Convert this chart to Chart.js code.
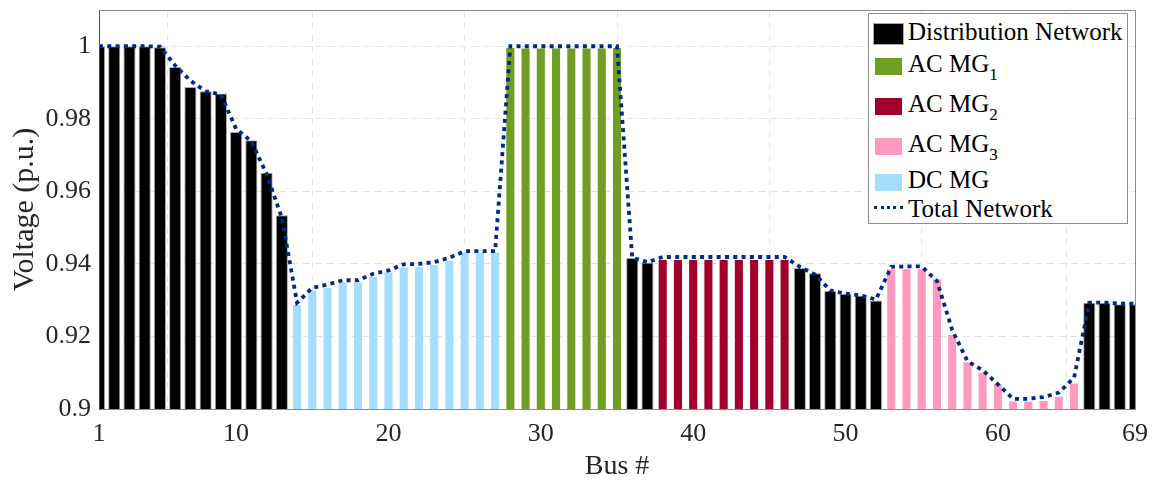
<!DOCTYPE html>
<html>
<head>
<meta charset="utf-8">
<script src="https://cdn.jsdelivr.net/npm/chart.js@4.4.1/dist/chart.umd.min.js"></script>
<style>
  body { margin: 0; background: #fff; }
  #wrap { position: relative; width: 1156px; height: 485px; }
  #legend {
    position: absolute; left: 868px; top: 13px; width: 258px; height: 209px;
    border: 1px solid #8c8c8c; background: #fff;
    font-family: "Liberation Serif", "Times New Roman", serif; color: #000;
  }
  #legend .row { position: absolute; left: 0; font-size: 25px; line-height: 25px; white-space: nowrap; }
  #legend .txt { position: absolute; left: 39px; top: 0; }
  #legend sub { font-size: 17px; vertical-align: -8px; line-height: 0; }
  #legend .sw { position: absolute; }
</style>
</head>
<body>
<div id="wrap">
  <canvas id="voltChart"></canvas>
  <div id="legend"></div>
</div>
<script>
// bus numbers and voltages (p.u.) per network part
const distBuses = [1, 2, 3, 4, 5, 6, 7, 8, 9, 10, 11, 12, 13, 36, 37, 47, 48, 49, 50, 51, 52, 66, 67, 68, 69];
const distV = [1.0, 1.0, 1.0, 1.0, 0.9997, 0.9943, 0.9888, 0.9876, 0.9870, 0.9764, 0.9741, 0.9651, 0.9534,
  0.9416, 0.9404, 0.9389, 0.9374, 0.9325, 0.9318, 0.9313, 0.9299, 0.9293, 0.9293, 0.9289, 0.9289];

const ac1Buses = [28, 29, 30, 31, 32, 33, 34, 35];
const ac1V = [0.9995, 0.9994, 0.9994, 0.9994, 0.9994, 0.9994, 0.9994, 0.9995];

const ac2Buses = [38, 39, 40, 41, 42, 43, 44, 45, 46];
const ac2V = [0.9411, 0.9411, 0.9411, 0.9411, 0.9411, 0.9411, 0.9411, 0.9411, 0.9411];

const ac3Buses = [53, 54, 55, 56, 57, 58, 59, 60, 61, 62, 63, 64, 65];
const ac3V = [0.9385, 0.9385, 0.9385, 0.9357, 0.9204, 0.9129, 0.9100, 0.9068, 0.9021, 0.9021, 0.9022, 0.9034, 0.9070];

const dcBuses = [14, 15, 16, 17, 18, 19, 20, 21, 22, 23, 24, 25, 26, 27];
const dcV = [0.9287, 0.9327, 0.9334, 0.9348, 0.9348, 0.9364, 0.9376, 0.9391, 0.9391, 0.9397, 0.9408, 0.9431, 0.9431, 0.9431];

// whole network, buses 1..69
const totalBuses = [1, 2, 3, 4, 5, 6, 7, 8, 9, 10, 11, 12, 13, 14, 15, 16, 17, 18, 19, 20, 21, 22, 23,
  24, 25, 26, 27, 28, 29, 30, 31, 32, 33, 34, 35, 36, 37, 38, 39, 40, 41, 42, 43, 44, 45, 46,
  47, 48, 49, 50, 51, 52, 53, 54, 55, 56, 57, 58, 59, 60, 61, 62, 63, 64, 65, 66, 67, 68, 69];
const totalV = [1.0, 1.0, 1.0, 1.0, 0.9999, 0.9947, 0.9905, 0.9876, 0.9867, 0.9772, 0.9738, 0.9648, 0.9527,
  0.9293, 0.9334, 0.9343, 0.9355, 0.9355, 0.9373, 0.9382, 0.9399, 0.9400, 0.9405, 0.9417, 0.9435, 0.9435, 0.9435,
  1.0, 1.0, 1.0, 1.0, 1.0, 1.0, 1.0, 1.0,
  0.9417, 0.9405,
  0.9419, 0.9419, 0.9419, 0.9419, 0.9419, 0.9419, 0.9419, 0.9419, 0.9419,
  0.9392, 0.9371, 0.9327, 0.9318, 0.9313, 0.9302,
  0.9392, 0.9393, 0.9393, 0.9353, 0.9218, 0.9132, 0.9107, 0.9068, 0.9028, 0.9028, 0.9033, 0.9045, 0.9086,
  0.9293, 0.9293, 0.9291, 0.9290];

const xTicks = [1, 10, 20, 30, 40, 50, 60, 69];
const yTicks = [0.9, 0.92, 0.94, 0.96, 0.98, 1];

const FONT = '"Liberation Serif", "Times New Roman", serif';

const pts = (xs, ys) => xs.map((x, i) => ({x: x, y: ys[i]}));

const barSet = (label, sub, xs, ys, color, pct, border) => ({
  type: 'bar',
  label: label,
  sub: sub,
  data: pts(xs, ys),
  backgroundColor: color,
  borderColor: border || color,
  borderWidth: border ? 1 : 0,
  grouped: false,
  barPercentage: pct,
  categoryPercentage: 1,
  order: 2
});

const datasets = [
  barSet('Distribution Network', '', distBuses, distV, '#000000', 0.8, '#a8a8a8'),
  barSet('AC MG', '1', ac1Buses, ac1V, '#6e9f22', 0.53),
  barSet('AC MG', '2', ac2Buses, ac2V, '#a0002b', 0.53),
  barSet('AC MG', '3', ac3Buses, ac3V, '#ff99c0', 0.53),
  barSet('DC MG', '', dcBuses, dcV, '#a3dffc', 0.53),
  {
    type: 'line',
    label: 'Total Network',
    sub: '',
    data: pts(totalBuses, totalV),
    borderColor: '#00298a',
    borderWidth: 3.8,
    borderDash: [4, 4.3],
    borderCapStyle: 'butt',
    pointRadius: 0,
    tension: 0,
    fill: false,
    order: 0
  }
];

// frame around the plot area
const frame = {
  id: 'frame',
  afterDatasetsDraw(chart) {
    const a = chart.chartArea, ctx = chart.ctx;
    ctx.save();
    ctx.lineWidth = 1;
    ctx.strokeStyle = '#8c8c8c';
    ctx.strokeRect(a.left + 0.5, a.top + 0.5, a.right - a.left, a.bottom - a.top);
    ctx.strokeStyle = '#4d4d4d';
    ctx.beginPath();
    ctx.moveTo(a.left + 0.5, a.top);
    ctx.lineTo(a.left + 0.5, a.bottom + 1);
    ctx.stroke();
    ctx.restore();
  }
};

const chart = new Chart(document.getElementById('voltChart').getContext('2d'), {
  data: {datasets: datasets},
  options: {
    responsive: true,
    maintainAspectRatio: false,
    animation: false,
    layout: {padding: {top: 10, right: 21, left: 0, bottom: 0}},
    plugins: {legend: {display: false}, tooltip: {enabled: false}},
    scales: {
      x: {
        type: 'linear',
        min: 1,
        max: 69,
        offset: false,
        afterBuildTicks: s => { s.ticks = xTicks.map(v => ({value: v})); },
        afterFit: s => { s.height = 76; s.paddingLeft = 0; s.paddingRight = 0; },
        grid: {color: '#e3e3e3', drawTicks: false},
        border: {display: false, dash: [7, 5]},
        ticks: {
          padding: 10,
          color: '#262626',
          font: {family: FONT, size: 26},
          maxRotation: 0,
          callback: v => String(v)
        },
        title: {
          display: true,
          text: 'Bus #',
          color: '#262626',
          font: {family: FONT, size: 28},
          padding: {top: 0, bottom: 2}
        }
      },
      y: {
        min: 0.9,
        max: 1.01,
        afterBuildTicks: s => { s.ticks = yTicks.map(v => ({value: v})); },
        afterFit: s => { s.width = 99; s.paddingTop = 0; s.paddingBottom = 0; },
        grid: {color: '#e3e3e3', drawTicks: false},
        border: {display: false, dash: [7, 5]},
        ticks: {
          padding: 8,
          color: '#262626',
          font: {family: FONT, size: 26},
          callback: v => String(+v.toFixed(2))
        },
        title: {
          display: true,
          text: 'Voltage (p.u.)',
          color: '#262626',
          font: {family: FONT, size: 30},
          padding: {top: 7, bottom: 0}
        }
      }
    }
  },
  plugins: [frame]
});

// legend box with subscripts, built from the datasets
const rowTops = [20, 52, 92, 132, 168, 197];
const legend = document.getElementById('legend');
datasets.forEach((d, i) => {
  const row = document.createElement('div');
  row.className = 'row';
  row.style.top = (rowTops[i] - 15) + 'px';
  row.style.width = '100%';
  row.style.height = '30px';
  const sw = document.createElement('div');
  sw.className = 'sw';
  if (d.type === 'line') {
    sw.style.left = '5px'; sw.style.top = '10px'; sw.style.width = '29px'; sw.style.height = '0';
    sw.style.borderTop = '3.5px dotted ' + d.borderColor;
  } else if (d.borderWidth) {
    sw.style.left = '4px'; sw.style.top = '4px'; sw.style.width = '31px'; sw.style.height = '22px';
    sw.style.background = d.backgroundColor; sw.style.border = '1px solid #a8a8a8';
    sw.style.boxSizing = 'border-box';
  } else {
    sw.style.left = '6px'; sw.style.top = '7px'; sw.style.width = '27px'; sw.style.height = '17px';
    sw.style.background = d.backgroundColor;
  }
  const txt = document.createElement('span');
  txt.className = 'txt';
  txt.innerHTML = d.label + (d.sub ? '<sub>' + d.sub + '</sub>' : '');
  row.appendChild(sw);
  row.appendChild(txt);
  legend.appendChild(row);
});
</script>
</body>
</html>
